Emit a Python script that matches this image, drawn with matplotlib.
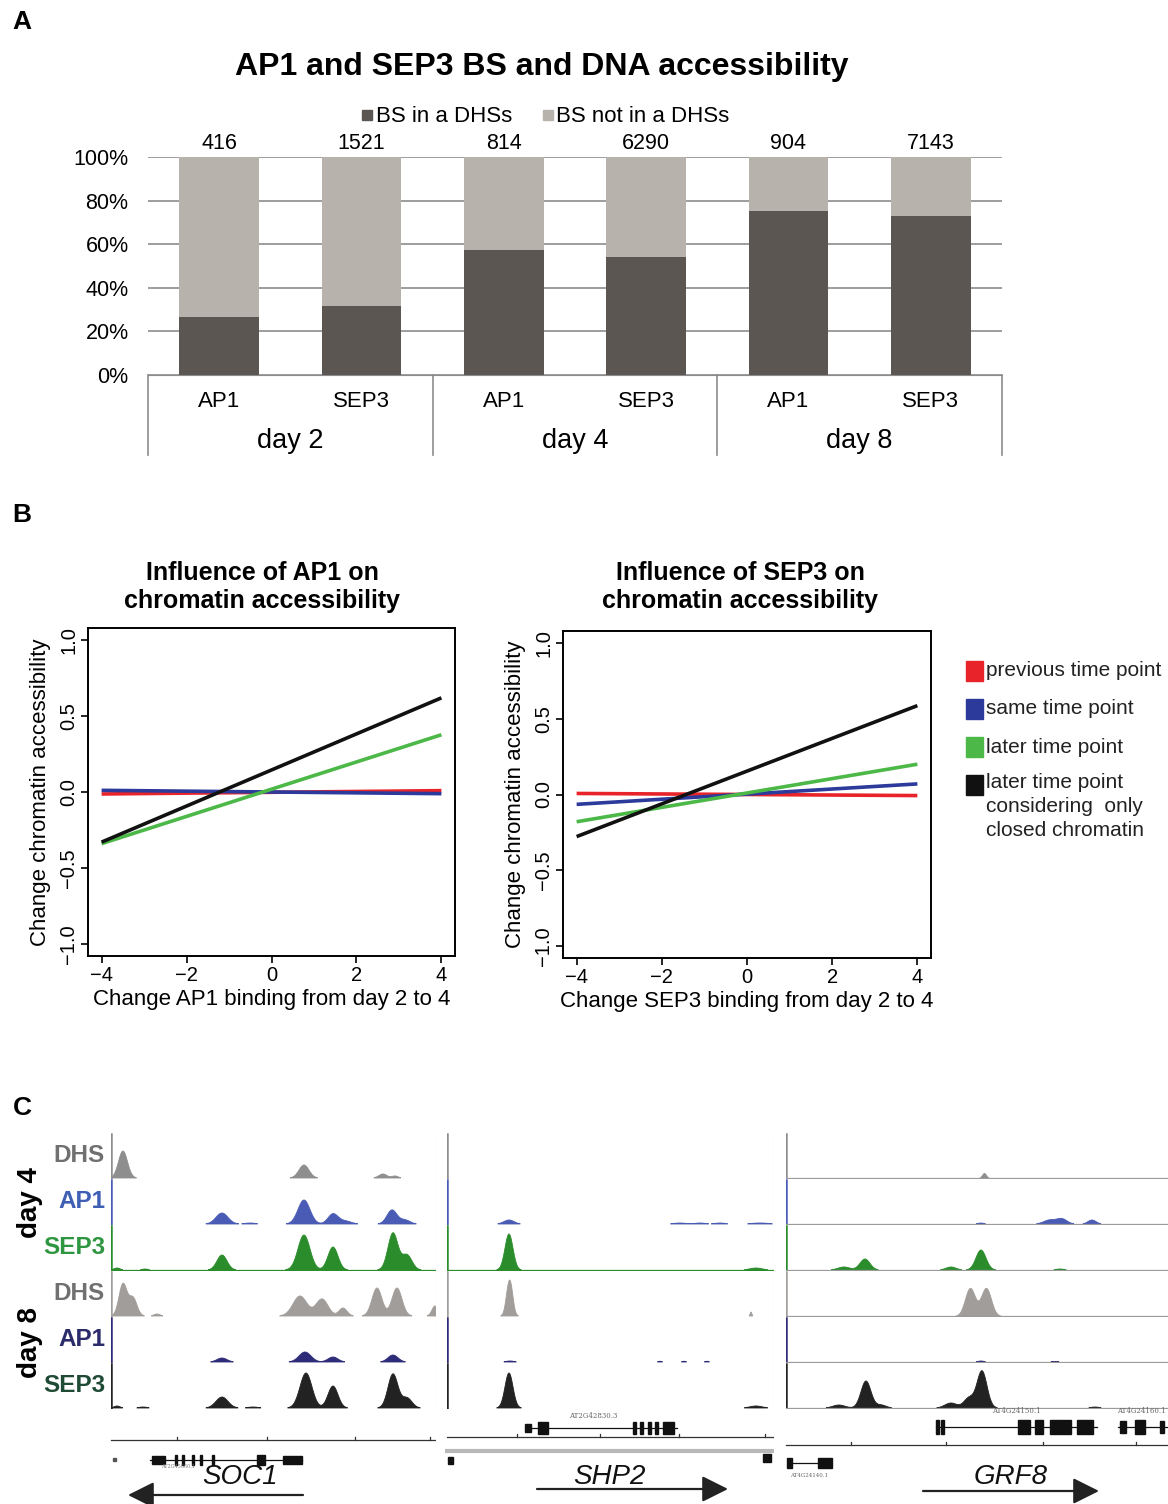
import numpy as np
import matplotlib
matplotlib.use('Agg')
import matplotlib.pyplot as plt
from matplotlib.patches import Rectangle
from matplotlib.lines import Line2D

plt.rcParams['font.family'] = ['Liberation Sans', 'DejaVu Sans']

W, H = 1168, 1504


def box(l, t, r, b):
    # pixel box -> figure fraction
    return [l / W, 1 - b / H, (r - l) / W, (b - t) / H]


# ---------------- panel A data ----------------
factors = ['AP1', 'SEP3', 'AP1', 'SEP3', 'AP1', 'SEP3']
days = ['day 2', 'day 4', 'day 8']
n_sites = [416, 1521, 814, 6290, 904, 7143]
pct_in_dhs = [26.8, 31.8, 57.3, 54.0, 75.1, 73.0]

# ---------------- panel B data ----------------
b_x = [-4, 4]
ap1_prev = [-0.013, 0.009]
ap1_same = [0.011, -0.011]
ap1_later = [-0.34, 0.377]
ap1_closed = [-0.33, 0.62]
sep3_prev = [0.007, -0.007]
sep3_same = [-0.065, 0.07]
sep3_later = [-0.18, 0.20]
sep3_closed = [-0.278, 0.587]
legend_b = ['previous time point', 'same time point', 'later time point',
            'later time point\nconsidering  only\nclosed chromatin']
colors_b = ['#e8242a', '#2b3a9b', '#4cb848', '#111111']

# ---------------- panel C data ----------------
# peaks per track: (position, height, width) read from the browser shots
track_names = ['DHS', 'AP1', 'SEP3', 'DHS', 'AP1', 'SEP3']
track_colors = ['#8e8e8e', '#4a5bb5', '#2a8c2a', '#a19d9a', '#2e2b78', '#222222']
label_colors = ['#707070', '#3f5fb5', '#2e9640', '#707070', '#2b2a6b', '#1f4a35']

soc1_peaks = [
    [(12, 27, 4.5), (193, 13, 5), (272, 4, 4), (284, 2, 3)],
    [(111, 11, 6), (139, 1, 5), (193, 24, 6), (222, 10, 5), (234, 3, 6), (281, 14, 5), (294, 4, 5)],
    [(6, 2, 3), (34, 1, 3), (111, 15, 5), (193, 35, 6), (222, 23, 5), (282, 37, 5), (296, 15, 5)],
    [(12, 32, 4), (22, 18, 4), (46, 2, 3), (189, 20, 7), (211, 17, 6), (232, 8, 4), (266, 28, 5),
     (286, 28, 5), (324, 10, 3)],
    [(111, 4, 5), (194, 10, 6), (222, 5, 5), (282, 7, 5)],
    [(6, 2, 3), (32, 1, 4), (111, 11, 6), (142, 1, 5), (195, 35, 6), (222, 22, 5), (282, 34, 5),
     (296, 10, 5)],
]
shp2_peaks = [
    [],
    [(62, 4, 5), (233, 1, 6), (253, 1, 5), (273, 1, 5), (313, 1, 8)],
    [(62, 36, 4), (309, 2, 6)],
    [(61, 20, 2.5), (64, 23, 2.5), (304, 4, 0.8)],
    [(63, 1, 4), (213, 0.7, 2), (237, 0.7, 2), (260, 0.7, 2)],
    [(62, 35, 4), (309, 2, 6)],
]
grf8_peaks = [
    [(198, 5, 2)],
    [(195, 1, 3), (264, 4, 6), (276, 5, 5), (306, 4, 4)],
    [(58, 3, 6), (79, 11, 5), (165, 3, 5), (195, 20, 5), (274, 1, 4)],
    [(184, 28, 5), (200, 28, 5)],
    [(195, 1, 3), (269, 0.5, 4)],
    [(53, 3, 6), (80, 27, 5), (95, 3, 5), (165, 5, 6), (183, 10, 5), (196, 37, 5), (309, 1, 4)],
]

fig = plt.figure(figsize=(W / 100, H / 100), dpi=100)

# ======================= A =======================
fig.text(22 / W, 1 - 22 / H, 'A', fontsize=19, weight='bold', ha='center', va='center')
fig.text(542 / W, 1 - 67 / H, 'AP1 and SEP3 BS and DNA accessibility',
         fontsize=23, weight='bold', ha='center', va='center')

dark, light = '#5b5652', '#b7b2ac'
axA = fig.add_axes(box(148, 157, 1002, 375))
xa = np.arange(len(factors))
pin = np.array(pct_in_dhs)
axA.bar(xa, pin, width=0.56, color=dark, zorder=2)
axA.bar(xa, 100 - pin, bottom=pin, width=0.56, color=light, zorder=2)
axA.set_xlim(-0.5, 5.5)
axA.set_ylim(0, 100)
axA.set_yticks(range(0, 101, 20))
axA.set_yticklabels([f'{v}%' for v in range(0, 101, 20)], fontsize=15.5)
axA.yaxis.grid(True, color='#8c8c8c', lw=1.2)
axA.set_axisbelow(True)
axA.tick_params(axis='y', length=0, pad=14)
axA.set_xticks([])
for s in ['left', 'right', 'top']:
    axA.spines[s].set_visible(False)
axA.spines['bottom'].set_color('#8c8c8c')

for i, n in enumerate(n_sites):
    axA.annotate(str(n), (i, 100), xytext=(0, 2), textcoords='offset points',
                 ha='center', va='bottom', fontsize=15.5)
    axA.text(i, -12, factors[i], ha='center', va='center', fontsize=16)
for g, d in enumerate(days):
    axA.text(2 * g + 0.5, -30.5, d, ha='center', va='center', fontsize=19.5)
for sx in [-0.5, 1.5, 3.5, 5.5]:
    axA.plot([sx, sx], [0, -36.7], color='#8c8c8c', lw=1.2, clip_on=False)

hA = [Line2D([], [], marker='s', ls='none', color=dark, markersize=7),
      Line2D([], [], marker='s', ls='none', color=light, markersize=7)]
axA.legend(hA, ['BS in a DHSs', 'BS not in a DHSs'], loc='center', ncol=2,
           bbox_to_anchor=((545 - 148) / 854, (375 - 117) / 218), frameon=False,
           fontsize=16, handlelength=0.6, handletextpad=0.1, columnspacing=1.3)

# ======================= B =======================
fig.text(22 / W, 1 - 515 / H, 'B', fontsize=19, weight='bold', ha='center', va='center')

panels_b = [
    (box(88, 628, 455, 956), 'Influence of AP1 on\nchromatin accessibility', 262,
     'Change AP1 binding from day 2 to 4', [ap1_prev, ap1_same, ap1_later, ap1_closed]),
    (box(563, 631, 931, 958), 'Influence of SEP3 on\nchromatin accessibility', 740,
     'Change SEP3 binding from day 2 to 4', [sep3_prev, sep3_same, sep3_later, sep3_closed]),
]
for rect, title, tx, xlab, series in panels_b:
    ax = fig.add_axes(rect)
    for ys, c in zip(series, colors_b):
        ax.plot(b_x, ys, color=c, lw=2.6, solid_capstyle='butt')
    ax.set_xlim(-4.32, 4.32)
    ax.set_ylim(-1.08, 1.08)
    ax.set_xticks([-4, -2, 0, 2, 4])
    ax.set_xticklabels(['\u22124', '\u22122', '0', '2', '4'], fontsize=14.5)
    ax.set_yticks([-1, -0.5, 0, 0.5, 1])
    ax.set_yticklabels(['\u22121.0', '\u22120.5', '0.0', '0.5', '1.0'], fontsize=14.5,
                       rotation=90, va='center')
    ax.tick_params(length=5, width=1.2, pad=2)
    for s in ax.spines.values():
        s.set_linewidth(1.4)
    ax.set_xlabel(xlab, fontsize=16, labelpad=3)
    ax.set_ylabel('Change chromatin accessibility', fontsize=16, labelpad=6)
    fig.text(tx / W, 1 - 587 / H, title, fontsize=18, weight='bold',
             ha='center', va='center', linespacing=1.2)

# legend B drawn by hand (multi-line last entry)
leg_rows = [671, 709, 747, 785]
for lab, c, yy in zip(legend_b, colors_b, leg_rows):
    fig.patches.append(Rectangle((966 / W, 1 - (yy + 10) / H), 17 / W, 20 / H,
                                 transform=fig.transFigure, color=c))
    if '\n' in lab:
        fig.text(986 / W, 1 - (yy - 12) / H, lab, fontsize=15, ha='left', va='top',
                 linespacing=1.32, color='#222222')
    else:
        fig.text(986 / W, 1 - yy / H, lab, fontsize=15, ha='left', va='center',
                 color='#222222')

# ======================= C =======================
fig.text(22 / W, 1 - 1108 / H, 'C', fontsize=19, weight='bold', ha='center', va='center')

cols = [(111, 436, soc1_peaks), (447, 774, shp2_peaks), (786, 1168, grf8_peaks)]
top0, th = 1133, 46
for ci, (cl, cr, peaks) in enumerate(cols):
    width = cr - cl
    xs = np.linspace(0, width, 900)
    for ti in range(6):
        t = top0 + th * ti
        ax = fig.add_axes(box(cl, t, cr, t + th))
        ax.set_xlim(0, width)
        ax.set_ylim(-1, 45)
        ax.axis('off')
        sig = np.zeros_like(xs)
        for pos, hgt, wd in peaks[ti]:
            sig += hgt * np.exp(-0.5 * ((xs - pos) / wd) ** 2)
        ax.fill_between(xs, 0, sig, where=sig > 0.3, color=track_colors[ti], lw=0.6,
                        edgecolor=track_colors[ti])
        ax.plot([0, 0], [0, 44], color=track_colors[ti], lw=1.8)
        if ci == 2:
            ax.plot([0, width], [0, 0], color='#9a9a9a', lw=0.9)
        elif ti == 2:
            ax.plot([0, width], [0, 0], color=track_colors[ti], lw=0.9)
        if ci < 2:
            ax.plot([width, width], [-1, 45], color='#cfcfcf', lw=0.8)
        if ci == 0:
            ax.text(-6, 22, track_names[ti], color=label_colors[ti], fontsize=17.5,
                    weight='bold', ha='right', va='center')

fig.text(30 / W, 1 - 1203 / H, 'day 4', rotation=90, fontsize=20, weight='bold',
         ha='center', va='center')
fig.text(30 / W, 1 - 1343 / H, 'day 8', rotation=90, fontsize=20, weight='bold',
         ha='center', va='center')

# gene models below the tracks
gene_names = ['SOC1', 'SHP2', 'GRF8']
ruler_ticks = [[66, 156, 244, 319], [70, 153, 232, 318], [65, 160, 257, 350]]
ruler_y = [30, 27, 35]
introns = [[(39, 191)], [(80, 230)], [(150, 311), (332, 382)]]
exons = [
    [(41, 13, 8), (64, 2, 10), (71, 2, 10), (81, 2, 10), (89, 2, 10), (101, 2, 10), (146, 8, 10), (172, 19, 8)],
    [(78, 6, 8), (91, 10, 12), (186, 3, 12), (193, 3, 12), (201, 3, 12), (208, 3, 12), (216, 11, 12)],
    [(150, 3, 14), (155, 3, 14), (232, 12, 14), (249, 8, 14), (264, 21, 14), (291, 16, 14),
     (334, 6, 12), (349, 10, 14), (374, 4, 12)],
]
gene_y = [50, 18, 17]
name_x = [129, 162, 225]
arrow_span = [(192, 17, 85), (90, 281, 79), (137, 313, 81)]

for ci, (cl, cr, _) in enumerate(cols):
    width = cr - cl
    ax = fig.add_axes(box(cl - 2, 1410, cr, 1504))
    ax.set_xlim(-2, width)
    ax.set_ylim(94, 0)
    ax.axis('off')
    ry = ruler_y[ci]
    ax.plot([0, width], [ry, ry], color='#333333', lw=0.9)
    for tk in ruler_ticks[ci]:
        ax.plot([tk, tk], [ry, ry - 3], color='#333333', lw=0.9)
    gy = gene_y[ci]
    for a, b in introns[ci]:
        ax.plot([a, b], [gy, gy], color='#111111', lw=0.9)
    for x0, w, h in exons[ci]:
        ax.add_patch(Rectangle((x0, gy - h / 2), w, h, color='#111111'))
    ax.text(name_x[ci], 67, gene_names[ci], fontsize=20, style='italic',
            ha='center', va='center', color='#111111')
    x0, x1, ay = arrow_span[ci]
    ax.annotate('', xy=(x1, ay), xytext=(x0, ay),
                arrowprops=dict(arrowstyle='-|>', mutation_scale=40, lw=1.6, color='#222222',
                                shrinkA=0, shrinkB=0))
    if ci == 0:
        ax.add_patch(Rectangle((2, 48), 3, 3, color='#555555'))
        ax.text(84, 58, 'AT2G45660.1', fontsize=3.5, color='#777777', ha='right',
                family='DejaVu Serif')
    if ci == 1:
        ax.plot([0, width], [41, 41], color='#b8b8b8', lw=3)
        ax.add_patch(Rectangle((1, 47), 5, 7, color='#111111'))
        ax.add_patch(Rectangle((316, 44), 8, 8, color='#111111'))
        ax.text(146, 8, 'AT2G42830.3', fontsize=5, color='#666666', ha='center', family='DejaVu Serif')
    if ci == 2:
        ax.text(230, 3, 'AT4G24150.1', fontsize=5, color='#666666', ha='center', family='DejaVu Serif')
        ax.text(380, 3, 'AT4G24160.1', fontsize=5, color='#666666', ha='right', family='DejaVu Serif')
        ax.add_patch(Rectangle((1, 48), 5, 10, color='#111111'))
        ax.plot([6, 32], [53, 53], color='#111111', lw=0.9)
        ax.add_patch(Rectangle((32, 48), 14, 10, color='#111111'))
        ax.text(23, 67, 'AT4G24140.1', fontsize=4, color='#666666', ha='center', family='DejaVu Serif')

fig.savefig('out.png', dpi=100, facecolor='white')
